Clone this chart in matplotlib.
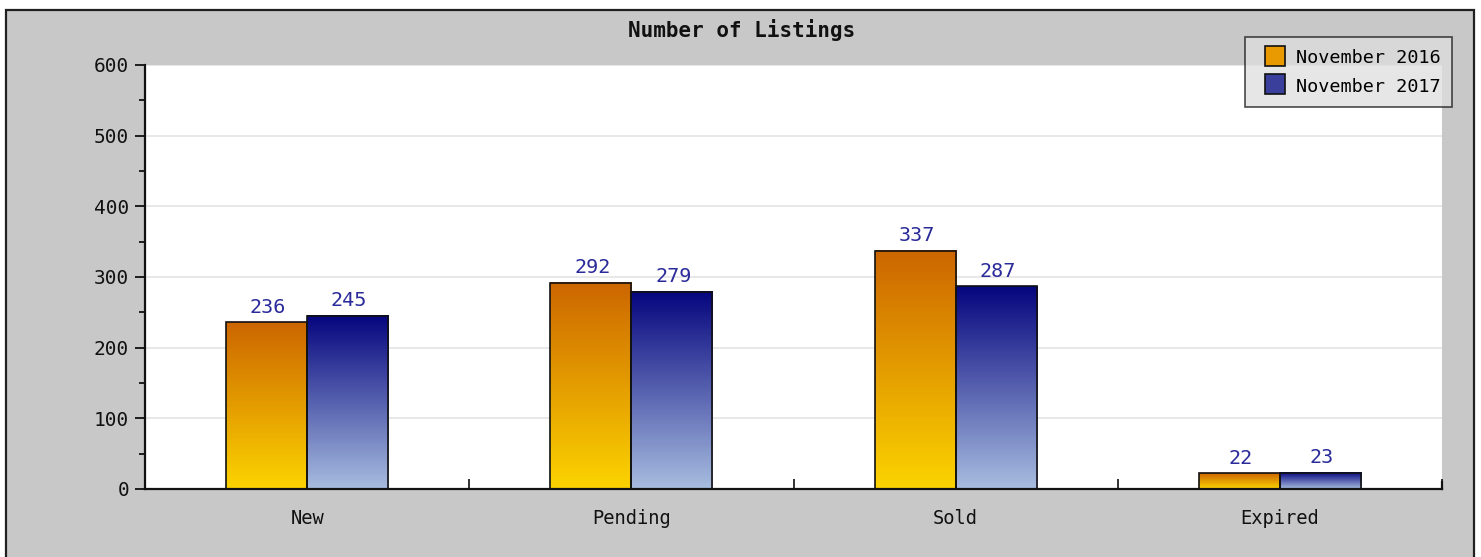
import matplotlib.pyplot as plt
import numpy as np
from matplotlib.colors import LinearSegmentedColormap
from matplotlib.patches import Rectangle
from matplotlib.lines import Line2D

categories = ["New", "Pending", "Sold", "Expired"]
series_names = ["November 2016", "November 2017"]
nov_2016 = [236, 292, 337, 22]
nov_2017 = [245, 279, 287, 23]

FONT = "DejaVu Sans Mono"
BG = "#c8c8c8"
LABEL_COLOR = "#2a2a9a"

# bottom -> top gradients
orange_cmap = LinearSegmentedColormap.from_list("orange", ["#fcd400", "#cc6600"])
blue_cmap = LinearSegmentedColormap.from_list("blue", ["#a8bde0", "#05057e"])


def gradient_bars(ax, bars, cmap):
    grad = np.linspace(0, 1, 256).reshape(-1, 1)
    for bar in bars:
        x0, y0 = bar.get_x(), bar.get_y()
        w, h = bar.get_width(), bar.get_height()
        ax.imshow(grad, cmap=cmap, origin="lower", aspect="auto",
                  extent=(x0, x0 + w, y0, y0 + h), zorder=2, interpolation="bicubic")


def main() -> None:
    fig = plt.figure(figsize=(14.81, 5.57), dpi=100)
    fig.patch.set_facecolor("white")
    # gray panel with dark frame
    panel = Rectangle((6 / 1481, -0.05), (1474 - 6) / 1481, 1 - 10 / 557 + 0.05,
                      transform=fig.transFigure, facecolor=BG,
                      edgecolor="#202020", linewidth=1.6, zorder=-5)
    fig.add_artist(panel)

    ax = fig.add_axes((145 / 1481, 1 - 489 / 557, (1442 - 145) / 1481, (489 - 65) / 557))
    ax.set_facecolor("white")
    ax.set_zorder(1)

    x = np.arange(len(categories))
    w = 0.25
    b1 = ax.bar(x - w / 2, nov_2016, w, facecolor="none", edgecolor="#111111", linewidth=1.2, zorder=3)
    b2 = ax.bar(x + w / 2, nov_2017, w, facecolor="none", edgecolor="#111111", linewidth=1.2, zorder=3)
    gradient_bars(ax, b1, orange_cmap)
    gradient_bars(ax, b2, blue_cmap)

    for bars, vals in ((b1, nov_2016), (b2, nov_2017)):
        for bar, v in zip(bars, vals):
            ax.annotate(str(v), (bar.get_x() + bar.get_width() / 2, v),
                        xytext=(1, 4), textcoords="offset points",
                        ha="center", va="bottom", color=LABEL_COLOR,
                        fontsize=14.5, family=FONT)

    ax.set_xlim(-0.5, len(categories) - 0.5)
    ax.set_ylim(0, 600)
    ax.set_yticks(range(0, 601, 100))
    ax.set_yticks(range(50, 600, 100), minor=True)
    ax.yaxis.grid(True, color="#e4e4e4", linewidth=1.2, zorder=0)
    ax.set_axisbelow(True)

    ax.set_xticks(x)
    ax.set_xticklabels(categories)
    ax.set_xticks(np.arange(0.5, len(categories), 1), minor=True)
    ax.tick_params(axis="x", which="major", length=0, pad=14.5, labelsize=13.5)
    ax.tick_params(axis="x", which="minor", direction="in", length=7, width=1.2, color="#111111")
    ax.tick_params(axis="y", which="major", direction="out", length=7, width=1.2, pad=4.5, labelsize=14)
    ax.tick_params(axis="y", which="minor", direction="out", length=4, width=1.2)
    for lab in ax.get_xticklabels() + ax.get_yticklabels():
        lab.set_family(FONT)
        lab.set_color("#111111")

    for side in ("top", "right"):
        ax.spines[side].set_visible(False)
    for side in ("left", "bottom"):
        ax.spines[side].set_linewidth(1.6)
        ax.spines[side].set_color("#111111")
    # small tick at right end of x axis
    ax.axvline(len(categories) - 0.5, ymin=0, ymax=7 / 424, color="#111111", linewidth=1.6, clip_on=False)

    fig.text(742 / 1481, 1 - 30 / 557, "Number of Listings", ha="center", va="center",
             fontsize=15, fontweight="bold", family=FONT, color="#111111")

    handles = [Line2D([], [], linestyle="none", marker="s", markersize=14, markerfacecolor="#e89a00",
                      markeredgecolor="#111111", markeredgewidth=1.2),
               Line2D([], [], linestyle="none", marker="s", markersize=14, markerfacecolor="#3a3f9c",
                      markeredgecolor="#111111", markeredgewidth=1.2)]
    leg = fig.legend(handles, series_names, loc="upper right",
                     bbox_to_anchor=(1452 / 1481, 1 - 37 / 557),
                     prop={"family": FONT, "size": 13.3}, frameon=True, fancybox=False,
                     borderaxespad=0, borderpad=0.6, handlelength=2.0, handleheight=1.1,
                     handletextpad=0.15, labelspacing=0.5)
    leg.set_zorder(5)
    frame = leg.get_frame()
    frame.set_facecolor((222 / 255, 222 / 255, 222 / 255))
    frame.set_alpha(0.75)
    frame.set_edgecolor("#111111")
    frame.set_linewidth(1.2)

    fig.savefig("out.png", dpi=100)


main()
